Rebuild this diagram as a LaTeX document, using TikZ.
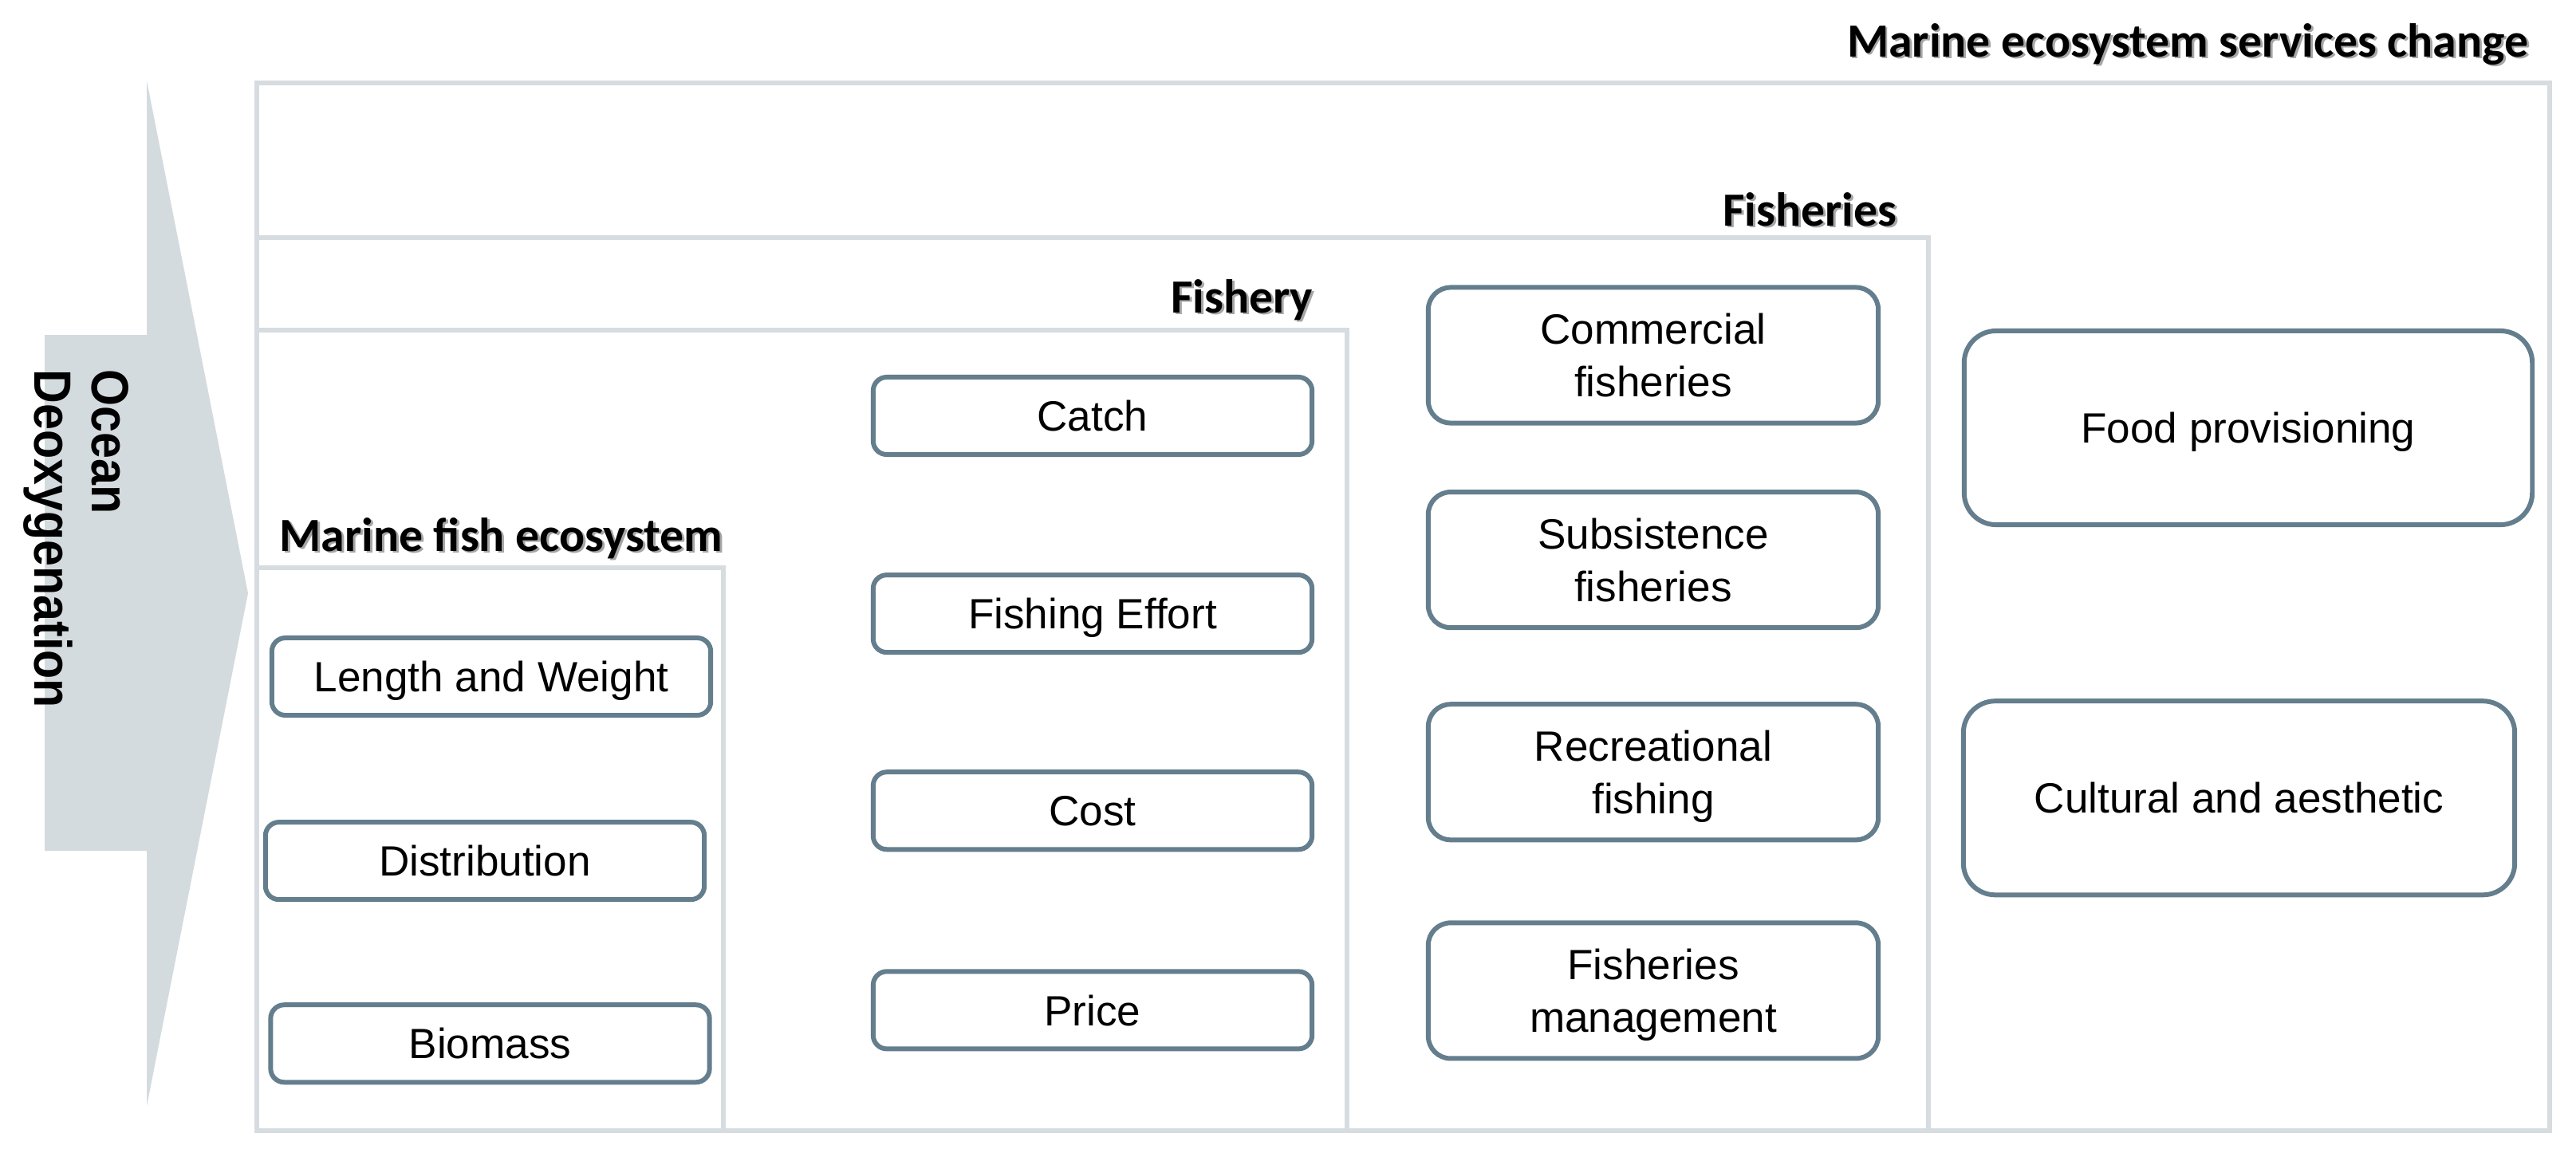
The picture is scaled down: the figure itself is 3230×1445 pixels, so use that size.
\documentclass[tikz,border=0pt]{standalone}
\usepackage{fontspec}
\setmainfont{Liberation Sans}
\newfontfamily\headfont{Carlito}
\newfontfamily\oxyfont[FakeStretch=0.9]{Liberation Sans Bold}
\usetikzlibrary{positioning}
\definecolor{frameGray}{RGB}{214,220,224}
\definecolor{arrowGray}{RGB}{212,219,223}
\definecolor{boxSlate}{RGB}{100,126,141}
\newcommand{\shadowed}[1]{\makebox[0pt][l]{\kern0.8pt\raisebox{-0.8pt}{\textcolor{black!35}{#1}}}#1}

\begin{document}
\begin{tikzpicture}[
    x=0.01cm, y=-0.01cm,
    frame/.style={draw=frameGray, line width=1.85pt},
    item/.style={rectangle, rounded corners=0.17cm, draw=boxSlate, line width=1.7pt, fill=white, minimum width=5.5cm, minimum height=0.97cm, inner sep=0pt, text depth=0pt, font=\fontsize{15.1}{18.8}\selectfont},
    fisheryitem/.style={item, rounded corners=0.28cm, minimum width=5.64cm, minimum height=1.70cm, align=center},
    service/.style={item, rounded corners=0.40cm, minimum height=2.43cm},
    heading/.style={anchor=base east, inner sep=0pt, font=\headfont\bfseries\fontsize{17}{20}\selectfont}
]
\fill[white] (0,0) rectangle (3230,1445);
\useasboundingbox (0,0) rectangle (3230,1445);

% Driver arrow
\fill[arrowGray] (56,420) -- (184,420) -- (184,101) -- (311,744) -- (184,1387) -- (184,1067) -- (56,1067) -- cycle;
\node[rotate=-90, anchor=north west, inner sep=0pt, align=left, font=\oxyfont\fontsize{18.7}{20.5}\selectfont] (oxygen) at (162,463) {Ocean\\Deoxygenation};

% Nested frames
\draw[frame] (322,104) rectangle (3197,1418);
\draw[frame] (322,298) rectangle (2418,1418);
\draw[frame] (322,414) rectangle (1689,1418);
\draw[frame] (322,712) rectangle (907,1418);

% Frame titles
\node[heading] (services) at (3171,71) {\shadowed{Marine ecosystem services change}};
\node[heading] (fisheries) at (2379,283) {\shadowed{Fisheries}};
\node[heading] (fishery) at (1647,392) {\shadowed{Fishery}};
\node[heading] (fishEco) at (907,691) {\shadowed{Marine fish ecosystem}};

% Marine fish ecosystem
\node[item] (length) at (616,848.5) {Length and Weight};
\node[item, below=1.28cm of length, xshift=-0.08cm] (distribution) {Distribution};
\node[item, below=1.26cm of distribution, xshift=0.065cm] (biomass) {Biomass};

% Fishery
\node[item] (catch) at (1370,521.5) {Catch};
\node[item, below=1.45cm of catch] (effort) {Fishing Effort};
\node[item, below=1.44cm of effort] (cost) {Cost};
\node[item, below=1.47cm of cost] (price) {Price};

% Fisheries
\node[fisheryitem] (commercial) at (2073,445.5) {Commercial\\fisheries};
\node[fisheryitem, below=0.805cm of commercial] (subsistence) {Subsistence\\fisheries};
\node[fisheryitem, below=0.90cm of subsistence] (recreational) {Recreational\\fishing};
\node[fisheryitem, below=0.98cm of recreational] (management) {Fisheries\\management};

% Services
\node[service, minimum width=7.12cm] (food) at (2819,536.5) {Food provisioning};
\node[service, minimum width=6.91cm, below=2.15cm of food, xshift=-0.115cm] (cultural) {Cultural and aesthetic};

\end{tikzpicture}
\end{document}
